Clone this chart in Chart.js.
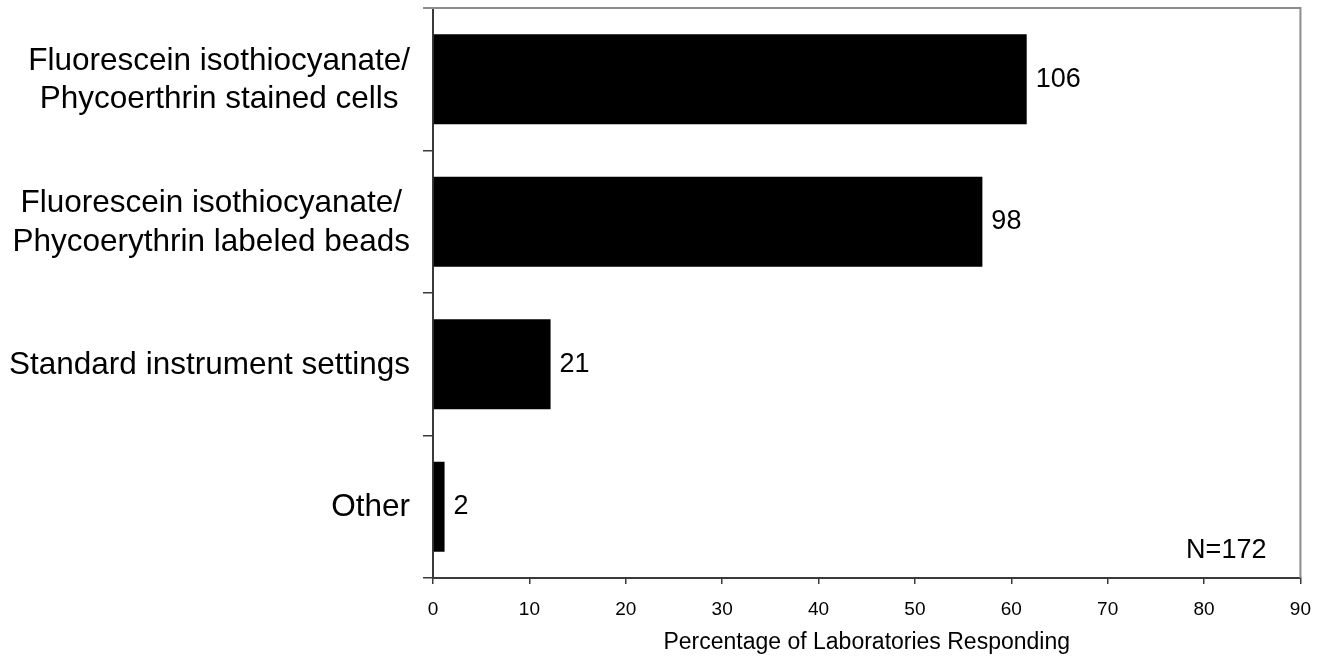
<!DOCTYPE html>
<html>
<head>
<meta charset="utf-8">
<script src="https://cdn.jsdelivr.net/npm/chart.js"></script>
<style>
  html, body { margin: 0; padding: 0; background: #fff; overflow: hidden; }
  canvas { display: block; }
</style>
</head>
<body>
<canvas id="methodsChart" width="1325" height="657"></canvas>
<script>
// Data
const categories = [
  ['Fluorescein isothiocyanate/', 'Phycoerthrin stained cells'],
  ['Fluorescein isothiocyanate/', 'Phycoerythrin labeled beads'],
  ['Standard instrument settings'],
  ['Other']
];
const percentages = [61.6, 57.0, 12.2, 1.2]; // bar lengths (%)
const counts = [106, 98, 21, 2];             // number printed at end of each bar
const totalLabel = 'N=172';
const xTicks = [0, 10, 20, 30, 40, 50, 60, 70, 80, 90];

const FONT = 'Arial, "Liberation Sans", Helvetica, sans-serif';
const AXIS_DARK = '#3a3a3a';

// draws category labels (centred lines, right aligned block), bar values and N
const annotations = {
  id: 'annotations',
  afterDraw(chart) {
    const { ctx, chartArea } = chart;
    const yScale = chart.scales.y;
    const meta = chart.getDatasetMeta(0);
    ctx.save();

    // frame: top and right in grey
    ctx.strokeStyle = '#8c8c8c';
    ctx.lineWidth = 2;
    ctx.beginPath();
    ctx.moveTo(chartArea.left - 10, chartArea.top);
    ctx.lineTo(chartArea.right, chartArea.top);
    ctx.lineTo(chartArea.right, chartArea.bottom);
    ctx.stroke();

    // category labels
    ctx.fillStyle = '#000';
    ctx.font = '31.5px ' + FONT;
    ctx.textBaseline = 'middle';
    ctx.textAlign = 'center';
    const rightEdge = chartArea.left - 23;
    const lineGap = 38.5;
    categories.forEach((lines, i) => {
      const yc = yScale.getPixelForValue(i) + 1;
      const maxW = Math.max(...lines.map(l => ctx.measureText(l).width));
      const xc = rightEdge - maxW / 2;
      lines.forEach((l, j) => {
        const y = yc + (j - (lines.length - 1) / 2) * lineGap;
        ctx.fillText(l, xc, y);
      });
    });

    // values at the end of bars
    ctx.font = '27px ' + FONT;
    ctx.textAlign = 'left';
    meta.data.forEach((bar, i) => {
      ctx.fillText(String(counts[i]), bar.x + 9, bar.y);
    });

    // N label
    ctx.textAlign = 'right';
    ctx.fillText(totalLabel, chartArea.right - 34, chartArea.bottom - 27);
    ctx.restore();
  }
};

const ctx = document.getElementById('methodsChart').getContext('2d');
const methodsChart = new Chart(ctx, {
  type: 'bar',
  data: {
    labels: categories,
    datasets: [{
      data: percentages,
      backgroundColor: '#000',
      borderWidth: 0,
      barPercentage: 0.63,
      categoryPercentage: 1.0
    }]
  },
  options: {
    indexAxis: 'y',
    responsive: false,
    animation: false,
    devicePixelRatio: 1,
    layout: { padding: { top: 8, right: 24, left: 0, bottom: 0 } },
    plugins: {
      legend: { display: false },
      tooltip: { enabled: false }
    },
    scales: {
      x: {
        min: 0,
        max: 90,
        afterBuildTicks: (scale) => {
          scale.ticks = xTicks.map(v => ({ value: v }));
        },
        afterFit: (scale) => { scale.height = 79; },
        grid: {
          drawOnChartArea: false,
          drawTicks: true,
          tickLength: 6,
          color: AXIS_DARK,
          lineWidth: 1.5
        },
        border: { color: AXIS_DARK, width: 2 },
        ticks: {
          color: '#000',
          font: { family: FONT, size: 19 },
          padding: 14,
          maxRotation: 0
        },
        title: {
          display: true,
          text: 'Percentage of Laboratories Responding',
          color: '#000',
          font: { family: FONT, size: 23 },
          padding: { top: 0, bottom: 1 }
        }
      },
      y: {
        afterFit: (scale) => { scale.width = 433; },
        grid: {
          offset: true,
          drawOnChartArea: false,
          drawTicks: true,
          tickLength: 10,
          color: AXIS_DARK,
          lineWidth: 1.5
        },
        border: { color: AXIS_DARK, width: 2 },
        ticks: { display: false }
      }
    }
  },
  plugins: [annotations]
});
</script>
</body>
</html>
